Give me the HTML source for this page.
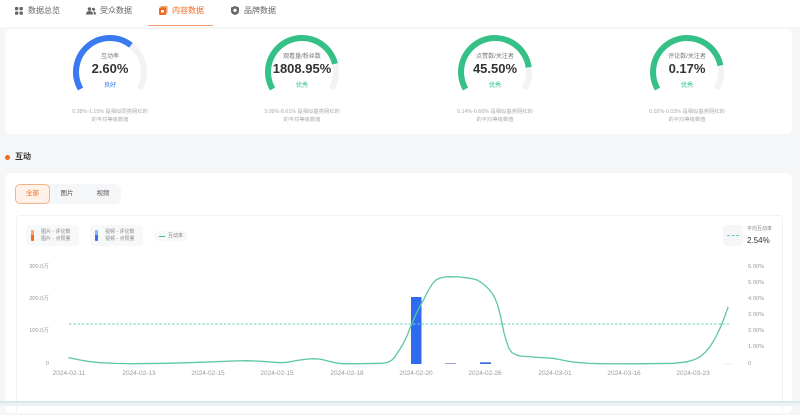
<!DOCTYPE html>
<html><head><meta charset="utf-8">
<style>
*{margin:0;padding:0;box-sizing:border-box}
html,body{width:800px;height:405px;overflow:hidden;background:#f5f6f8;font-family:"Liberation Sans","Noto Sans CJK SC",sans-serif}
.a{position:absolute;white-space:nowrap}
.tab{font-size:8px;color:#666;top:6px;line-height:10px}
.c{transform:translateX(-50%);text-align:center}
.lbl{font-size:6px;color:#777;top:53px;line-height:8px}
.val{font-size:13px;font-weight:bold;color:#333;top:61px;line-height:15px}
.st{font-size:6.2px;top:82px;line-height:8px}
.desc{font-size:5.3px;color:#aaa;line-height:8px;top:108px;text-align:center}
.ax{font-size:5.7px;color:#999;line-height:7px}
.xl{font-size:6.5px;color:#9a9a9a;top:370px;line-height:8px}
.lg{font-size:5px;color:#888;line-height:7px}
</style></head><body>
<!-- top tab bar -->
<div class="a" style="left:0;top:0;width:800px;height:27px;background:#fff"></div>
<svg class="a" style="left:15px;top:7px" width="8" height="8"><rect x="0" y="0" width="3.3" height="3.3" rx="0.8" fill="#666"/><rect x="4.5" y="0" width="3.3" height="3.3" rx="0.8" fill="#666"/><rect x="0" y="4.5" width="3.3" height="3.3" rx="0.8" fill="#666"/><rect x="4.5" y="4.5" width="3.3" height="3.3" rx="0.8" fill="#666"/></svg>
<div class="a tab" style="left:28px">数据总览</div>
<svg class="a" style="left:86px;top:7px" width="10" height="8"><circle cx="3.5" cy="2" r="1.8" fill="#666"/><circle cx="7.5" cy="2.2" r="1.5" fill="#666"/><path d="M0 7.5 Q0 4 3.5 4 Q7 4 7 7.5Z" fill="#666"/><path d="M7.5 4.2 Q10 4.4 10 7.5 H7.8Z" fill="#666"/></svg>
<div class="a tab" style="left:100px">受众数据</div>
<svg class="a" style="left:159px;top:6px" width="9" height="9"><rect x="1.5" y="0" width="7" height="7.5" rx="1" fill="#f2a070"/><rect x="0" y="1.5" width="7" height="7.5" rx="1" fill="#ee6a1f"/><rect x="2" y="4" width="3" height="2.5" fill="#fff"/></svg>
<div class="a tab" style="left:172px;color:#ee6a1f">内容数据</div>
<div class="a" style="left:148px;top:25px;width:65px;height:1.2px;background:#f2a070"></div>
<svg class="a" style="left:231px;top:6px" width="8" height="9"><path d="M4 0 L8 1.5 V5 Q8 8 4 9 Q0 8 0 5 V1.5Z" fill="#666"/><circle cx="4" cy="4.3" r="1.7" fill="#fff"/></svg>
<div class="a tab" style="left:244px">品牌数据</div>

<!-- top card -->
<div class="a" style="left:5px;top:29px;width:787px;height:105px;background:#fff;border-radius:6px"></div>
<svg class="a" style="left:0;top:0" width="800" height="134">
 <g fill="none" stroke-width="6">
  <path d="M80.56 89 A34 34 0 1 1 139.44 89" stroke="#f2f3f5"/>
  <path d="M80.56 89 A34 34 0 0 1 130.9 45.2" stroke="#3a7af0"/>
  <path d="M272.56 89 A34 34 0 1 1 331.44 89" stroke="#f2f3f5"/>
  <path d="M272.56 89 A34 34 0 1 1 335 63.8" stroke="#35c185"/>
  <path d="M465.56 89 A34 34 0 1 1 524.44 89" stroke="#f2f3f5"/>
  <path d="M465.56 89 A34 34 0 1 1 528.7 67.3" stroke="#35c185"/>
  <path d="M657.56 89 A34 34 0 1 1 716.44 89" stroke="#f2f3f5"/>
  <path d="M657.56 89 A34 34 0 1 1 720.4 65.5" stroke="#35c185"/>
 </g>
</svg>
<div class="a c lbl" style="left:110px">互动率</div>
<div class="a c val" style="left:110px">2.60%</div>
<div class="a c st" style="left:110px;color:#3a7af0">良好</div>
<div class="a c desc" style="left:110px">0.28%-1.15% 是相似同类网红的<br>的平均等级数值</div>

<div class="a c lbl" style="left:302px">观看量/粉丝数</div>
<div class="a c val" style="left:302px">1808.95%</div>
<div class="a c st" style="left:302px;color:#35c185">优秀</div>
<div class="a c desc" style="left:302px">3.09%-8.61% 是相似垂类网红的<br>的平均等级数值</div>

<div class="a c lbl" style="left:495px">点赞数/关注者</div>
<div class="a c val" style="left:495px">45.50%</div>
<div class="a c st" style="left:495px;color:#35c185">优秀</div>
<div class="a c desc" style="left:495px">0.14%-0.66% 是相似垂类网红的<br>的平均等级数值</div>

<div class="a c lbl" style="left:687px">评论数/关注者</div>
<div class="a c val" style="left:687px">0.17%</div>
<div class="a c st" style="left:687px;color:#35c185">优秀</div>
<div class="a c desc" style="left:687px">0.02%-0.03% 是相似垂类网红的<br>的平均等级数值</div>

<!-- section title -->
<div class="a" style="left:5px;top:155px;width:5px;height:5px;border-radius:50%;background:#ee6a1f"></div>
<div class="a" style="left:15px;top:152px;font-size:8px;font-weight:bold;color:#333;line-height:10px">互动</div>

<!-- card 2 -->
<div class="a" style="left:5px;top:173px;width:787px;height:240px;background:#fff;border-radius:6px"></div>
<div class="a" style="left:15px;top:184px;width:106px;height:20px;background:#f5f6f8;border-radius:6px"></div>
<div class="a" style="left:15px;top:184px;width:35px;height:20px;background:#fff1e7;border:1px solid #f0b48a;border-radius:5px"></div>
<div class="a c" style="left:32.5px;top:190px;font-size:6.5px;color:#ee6a1f;line-height:8px">全部</div>
<div class="a c" style="left:67px;top:190px;font-size:6.5px;color:#555;line-height:8px">图片</div>
<div class="a c" style="left:103px;top:190px;font-size:6.5px;color:#555;line-height:8px">视频</div>

<div class="a" style="left:16px;top:215px;width:767px;height:200px;border:1px solid #f1f2f4;border-radius:4px"></div>

<!-- legend -->
<div class="a" style="left:26px;top:225px;width:53px;height:21px;background:#f7f8fa;border-radius:4px"></div>
<div class="a" style="left:31px;top:230px;width:3px;height:5px;background:#f4a877;border-radius:1px 1px 0 0"></div>
<div class="a" style="left:31px;top:235px;width:3px;height:6px;background:#ee6a1f;border-radius:0 0 1px 1px"></div>
<div class="a lg" style="left:41px;top:228.5px">图片 - 评论数<br>图片 - 点赞量</div>
<div class="a" style="left:90px;top:225px;width:53px;height:21px;background:#f7f8fa;border-radius:4px"></div>
<div class="a" style="left:95px;top:230px;width:3px;height:5px;background:#8fb2f7;border-radius:1px 1px 0 0"></div>
<div class="a" style="left:95px;top:235px;width:3px;height:6px;background:#3a6fea;border-radius:0 0 1px 1px"></div>
<div class="a lg" style="left:105px;top:228.5px">视频 - 评论数<br>视频 - 点赞量</div>
<div class="a" style="left:154px;top:231px;width:34px;height:10px;background:#f7f8fa;border-radius:5px"></div>
<div class="a" style="left:159px;top:235.5px;width:6px;height:1.3px;background:#35c185"></div>
<div class="a lg" style="left:168px;top:232.5px">互动率</div>

<div class="a" style="left:723px;top:225px;width:20px;height:21px;background:#f5f6f8;border-radius:4px"></div>
<div class="a" style="left:727px;top:235px;width:12px;border-top:1px dashed #6dcfc0"></div>
<div class="a lg" style="left:747px;top:226px">平均互动率</div>
<div class="a" style="left:747px;top:236px;font-size:8px;color:#333;line-height:9px">2.54%</div>

<!-- axes labels -->
<div class="a ax" style="right:751px;top:263.5px">300.0万</div>
<div class="a ax" style="right:751px;top:295.5px">200.0万</div>
<div class="a ax" style="right:751px;top:327.5px">100.0万</div>
<div class="a ax" style="right:751px;top:360.5px">0</div>

<div class="a ax" style="left:748px;top:263.5px">6.00%</div>
<div class="a ax" style="left:748px;top:279.5px">5.00%</div>
<div class="a ax" style="left:748px;top:295.5px">4.00%</div>
<div class="a ax" style="left:748px;top:312px">3.00%</div>
<div class="a ax" style="left:748px;top:328px">2.00%</div>
<div class="a ax" style="left:748px;top:344px">1.00%</div>
<div class="a ax" style="left:748px;top:360.5px">0</div>

<div class="a c xl" style="left:69px">2024-02-11</div>
<div class="a c xl" style="left:139px">2024-02-13</div>
<div class="a c xl" style="left:208px">2024-02-15</div>
<div class="a c xl" style="left:277px">2024-02-15</div>
<div class="a c xl" style="left:347px">2024-02-18</div>
<div class="a c xl" style="left:416px">2024-02-20</div>
<div class="a c xl" style="left:485px">2024-02-26</div>
<div class="a c xl" style="left:555px">2024-03-01</div>
<div class="a c xl" style="left:624px">2024-03-16</div>
<div class="a c xl" style="left:693px">2024-03-23</div>

<svg class="a" style="left:0;top:0" width="800" height="405">
 <rect x="411" y="297" width="10.5" height="67" fill="#2f6bf0"/>
 <rect x="445" y="363" width="11" height="1" fill="#9b9cf0"/>
 <rect x="480" y="362.3" width="11" height="1.7" fill="#3a6fd8"/>
 <rect x="723" y="363.5" width="10" height="0.6" fill="#e4e6ea"/>
 <line x1="69" y1="324" x2="729" y2="324" stroke="#6dcfc0" stroke-width="0.9" stroke-dasharray="2.5 1.8"/>
 <polyline fill="none" stroke="#5cc89c" stroke-width="1.3" stroke-linejoin="round" stroke-linecap="round" points="69,357.7 80,360 90,361.7 100,362.7 115,363.4 133,363.7 167,363.3 200,362.3 233,361 247,360.7 258,361.1 267,361.7 280,362.7 287,362.3 294,361 300,360 307,359.1 313,358.7 318,359 323,359.7 328,361 333,362.3 338,363.2 343,363.7 360,363.7 383,363.3 388,362.3 392,360 395,357 397,353.5 400,349 403,344 407,336 410,328 413,321 416,314 420,306 424,299 427,293 430,287.5 433,283 436,280 440,278 445,277 450,276.7 460,277 470,278.3 476,279.6 480,281.7 484,284.5 488,288.3 492,293 495,298.3 498,306 500,314 502,323 504,333 507,343 509,348.5 512,352.7 516,354.8 520,356 533,357 553,358.3 560,359.6 567,361 573,362 580,362.7 590,363.4 600,363.7 640,363.8 673,363.3 680,362.7 687,361.7 694,359.8 700,356.7 705,352.5 710,346.7 715,338.5 720,328.3 724,318.5 728,307.3"/>
</svg>

<!-- bottom band -->
<div class="a" style="left:0;top:401px;width:800px;height:1.5px;background:#d6e8ea"></div>
<div class="a" style="left:0;top:402.5px;width:800px;height:3px;background:#eef2f4"></div>
</body></html>
